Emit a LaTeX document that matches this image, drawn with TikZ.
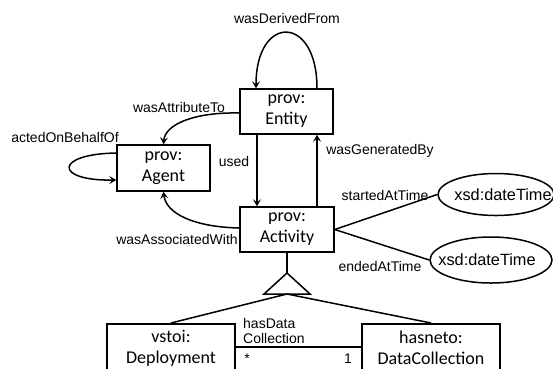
\documentclass[tikz,border=0pt]{standalone}
\usepackage{fontspec}
\setmainfont{Liberation Sans}
\newfontfamily\boxfont{Carlito}
\usetikzlibrary{arrows.meta,shapes.geometric}
\begin{document}
\begin{tikzpicture}[x=1pt,y=-1pt,
  cls/.style={draw,line width=1.5pt,inner sep=0pt,align=center,font=\boxfont\fontsize{18}{21}\selectfont},
  val/.style={draw,ellipse,line width=1.5pt,inner sep=0pt},
  valtxt/.style={inner sep=0pt,font=\fontsize{16.3}{19}\selectfont},
  lbl/.style={font=\fontsize{14}{15.5}\selectfont,inner sep=0pt},
  conn/.style={line width=1.5pt},
  arr/.style={line width=1.5pt,-{Stealth[length=7pt,width=8pt,inset=3pt]}}]
\useasboundingbox (0,0) rectangle (553,368);
\node[cls,minimum width=93pt,minimum height=45pt] (entity) at (286.5,111.5) {prov:\\Entity};
\node[cls,minimum width=93pt,minimum height=46pt] (agent) at (163.5,168) {prov:\\Agent};
\node[cls,minimum width=94pt,minimum height=45pt] (activity) at (287,229.5) {prov:\\Activity};
\node[cls,minimum width=128pt,minimum height=48pt,anchor=north] (deploy) at (171,323) {vstoi:\\Deployment};
\node[cls,minimum width=138pt,minimum height=48pt,anchor=north] (dc) at (431,323) {hasneto:\\DataCollection};
\node[val,minimum width=116pt,minimum height=42pt] (t1) at (496,194.5) {};
\node[valtxt] (t1txt) at (503,195) {xsd:dateTime};
\node[val,minimum width=122pt,minimum height=46pt] (t2) at (491,260) {};
\node[valtxt] (t2txt) at (487,260) {xsd:dateTime};
% generalization triangle
\coordinate (apex) at (287,273);
\coordinate (bl) at (264,294);
\coordinate (br) at (310,294);
\coordinate (bm) at (287,294);
\draw[conn,line join=miter] (apex) -- (bl) -- (br) -- cycle;
\draw[conn] (activity.south) -- (apex);
\draw[conn] (bm) -- (deploy.north);
\draw[conn] (bm) -- (dc.north);
% association
\draw[conn] (deploy.east |- 0,347) -- (dc.west |- 0,347);
\node[lbl,align=left,anchor=south west] (hdc) at (243,344) {hasData\\Collection};
\node[lbl,anchor=center] (star) at (247,359) {*};
\node[lbl,anchor=center] (one) at (348,359) {1};
% time links
\draw[conn] (activity.east) -- (t1.west);
\draw[conn] (activity.east) -- (t2.west);
\node[lbl] (sat) at (385,195) {startedAtTime};
\node[lbl] (eat) at (380,266) {endedAtTime};
% used / generated
\draw[arr] (entity.south -| 257,0) -- (activity.north -| 257,0);
\draw[arr] (activity.north -| 317,0) -- (entity.south -| 317,0);
\node[lbl] (used) at (234,161) {used};
\node[lbl] (wgb) at (380,151) {wasGeneratedBy};
% derived loop
\draw[arr] (entity.north -| 317,0) .. controls (317,14) and (256,14) .. (entity.north -| 256,0);
\node[lbl] (wdf) at (287,18) {wasDerivedFrom};
% attributed
\draw[arr] (entity.west |- 0,113) .. controls (195,112) and (165,124) .. (agent.north);
\node[lbl] (wat) at (179,107) {wasAttributeTo};
% acted on behalf
\draw[arr] (agent.west |- 0,153) .. controls (54,154) and (54,181) .. (agent.west |- 0,180);
\node[lbl] (aob) at (65,137) {actedOnBehalfOf};
% associated
\draw[arr] (activity.west |- 0,228) .. controls (195,227) and (166,214) .. (agent.south);
\node[lbl] (waw) at (177,239) {wasAssociatedWith};
\end{tikzpicture}
\end{document}
